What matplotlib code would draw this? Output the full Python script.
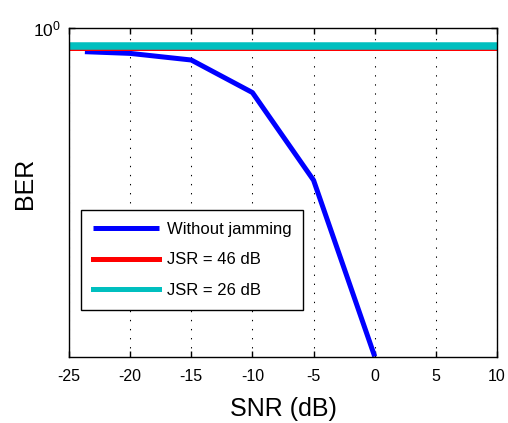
import numpy as np
import matplotlib
matplotlib.use("Agg")
import matplotlib.pyplot as plt

plt.rcParams['font.family'] = ['Liberation Sans', 'DejaVu Sans']
plt.rcParams['mathtext.fontset'] = 'custom'
plt.rcParams['mathtext.rm'] = 'Liberation Sans'
plt.rcParams['mathtext.it'] = 'Liberation Sans'

# data
snr = np.array([-23.7, -20, -15, -10, -5, 0])
ber_nojam = np.array([0.847, 0.837, 0.799, 0.636, 0.344, 0.1])
snr_jam = np.array([-25, 10])
ber_jsr46 = np.array([0.869, 0.869])
ber_jsr26 = np.array([0.884, 0.884])
xticks = [-25, -20, -15, -10, -5, 0, 5, 10]

fig = plt.figure(figsize=(5.08, 4.23), dpi=100)
ax = fig.add_axes([69/508, 1-356.5/423, 428/508, 328.5/423])

ax.plot(snr, ber_nojam, color="#0000ff", lw=3.6, label="Without jamming", solid_capstyle="butt")
ax.plot(snr_jam, ber_jsr46, color="#ff0000", lw=3.6, label="JSR = 46 dB")
ax.plot(snr_jam, ber_jsr26, color="#00bfbf", lw=5.4, label="JSR = 26 dB")

ax.set_yscale("log")
ax.set_xlim(-25, 10)
ax.set_ylim(0.1, 1)
ax.set_xticks(xticks)
ax.set_xticklabels([str(t) for t in xticks], fontsize=11.5)
ax.set_yticks([1])
ax.set_yticklabels(["$10^0$"], fontsize=12.5)
ax.yaxis.set_minor_locator(matplotlib.ticker.NullLocator())
ax.tick_params(axis='both', direction='in', length=4, width=1, top=True, right=True)
ax.tick_params(axis='x', pad=9)
ax.tick_params(axis='y', pad=6)
ax.grid(axis='x', color='black', linestyle=(0, (1.3, 7.4)), linewidth=0.75)
for s in ax.spines.values():
    s.set_linewidth(1)

ax.set_xlabel("SNR (dB)", fontsize=18)
ax.set_ylabel("BER", fontsize=18)
ax.xaxis.set_label_coords(0.5, -0.122)
ax.yaxis.set_label_coords(-0.074, 0.528)

leg = ax.legend(loc='lower left', bbox_to_anchor=(0.028, 0.1416), borderaxespad=0,
                fontsize=12, fancybox=False, edgecolor='black', framealpha=1,
                handlelength=4.0, handletextpad=0.45, borderpad=0.7, labelspacing=0.95)
leg.get_frame().set_linewidth(1)
for h in leg.get_lines():
    h.set_linewidth(3.6)

fig.savefig("out.png", dpi=100)
